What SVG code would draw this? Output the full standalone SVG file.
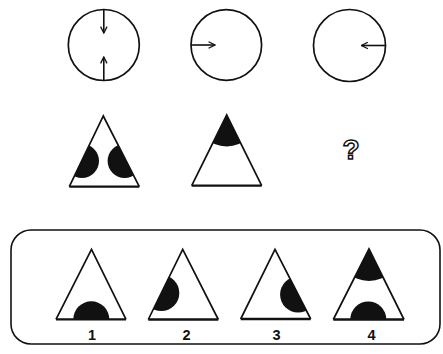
<svg xmlns="http://www.w3.org/2000/svg" width="443" height="354" viewBox="0 0 443 354">
<style>
.ln{fill:none;stroke:#111;stroke-width:1.7;stroke-linejoin:miter}
.base{stroke:#111;stroke-width:2.3}
.blk{fill:#111}
.arr{fill:none;stroke:#111;stroke-width:1.6}
.lbl{font-family:"Liberation Sans",Arial,sans-serif;font-weight:bold;font-size:14.5px;fill:#111;text-anchor:middle}
</style>
<defs>
<marker id="ah" viewBox="0 0 10 10" refX="9" refY="5" markerWidth="8" markerHeight="8" orient="auto" markerUnits="userSpaceOnUse">
<path d="M1,1 L9,5 L1,9" fill="none" stroke="#111" stroke-width="1.6"/>
</marker>
<clipPath id="cA"><polygon points="103.3,116 69.3,186.7 139.3,186.7"/></clipPath>
<clipPath id="cB"><polygon points="226.7,115 191.7,185.7 261.7,185.7"/></clipPath>
<clipPath id="c1"><polygon points="91.5,249.3 56,319.3 126,319.3"/></clipPath>
<clipPath id="c2"><polygon points="182.7,249.3 148.3,319.5 218.3,319.5"/></clipPath>
<clipPath id="c3"><polygon points="275,249.3 240.7,319 310.7,319"/></clipPath>
<clipPath id="c4"><polygon points="369,249 333.3,319.5 404,319.5"/></clipPath>
</defs>

<g id="circle1">
<circle class="ln" cx="103.8" cy="45" r="35.5"/>
<line class="arr" x1="103.8" y1="9.5" x2="103.8" y2="33" marker-end="url(#ah)"/>
<line class="arr" x1="103.8" y1="80.5" x2="103.8" y2="57" marker-end="url(#ah)"/>
</g>
<g id="circle2">
<circle class="ln" cx="226.3" cy="45" r="35.3"/>
<line class="arr" x1="191" y1="45" x2="215" y2="45" marker-end="url(#ah)"/>
</g>
<g id="circle3">
<circle class="ln" cx="349.5" cy="45.5" r="36"/>
<line class="arr" x1="385.5" y1="45.5" x2="361.5" y2="45.5" marker-end="url(#ah)"/>
</g>

<g id="triA">
<g clip-path="url(#cA)">
<circle class="blk" cx="82" cy="161" r="17"/>
<circle class="blk" cx="124.6" cy="161" r="17"/>
</g>
<polyline class="ln" points="69.3,186.7 103.3,116 139.3,186.7"/>
<line class="base" x1="69.3" y1="186.7" x2="139.3" y2="186.7"/>
</g>
<g id="triB">
<g clip-path="url(#cB)">
<circle class="blk" cx="226.7" cy="115" r="31.5"/>
</g>
<polyline class="ln" points="191.7,185.7 226.7,115 261.7,185.7"/>
<line class="base" x1="191.7" y1="185.7" x2="261.7" y2="185.7"/>
</g>
<g id="question">
<text x="351" y="159" font-family="'Liberation Sans',Arial,sans-serif" font-weight="bold" font-size="28" fill="#fff" stroke="#111" stroke-width="1.5" text-anchor="middle">?</text>
</g>

<g id="answers">
<rect class="ln" x="11" y="230" width="429" height="114" rx="20" ry="20" style="stroke-width:1.6"/>
<g id="opt1">
<g clip-path="url(#c1)"><circle class="blk" cx="91.3" cy="319.3" r="18"/></g>
<polyline class="ln" points="56,319.3 91.5,249.3 126,319.3"/>
<line class="base" x1="56" y1="319.3" x2="126" y2="319.3"/>
<text class="lbl" x="92" y="339.5">1</text>
</g>
<g id="opt2">
<g clip-path="url(#c2)"><circle class="blk" cx="161.3" cy="293" r="18"/></g>
<polyline class="ln" points="148.3,319.5 182.7,249.3 218.3,319.5"/>
<line class="base" x1="148.3" y1="319.5" x2="218.3" y2="319.5"/>
<text class="lbl" x="186.5" y="339.5">2</text>
</g>
<g id="opt3">
<g clip-path="url(#c3)"><circle class="blk" cx="298.1" cy="294.5" r="18"/></g>
<polyline class="ln" points="240.7,319 275,249.3 310.7,319"/>
<line class="base" x1="240.7" y1="319" x2="310.7" y2="319"/>
<text class="lbl" x="276.5" y="339.5">3</text>
</g>
<g id="opt4">
<g clip-path="url(#c4)">
<circle class="blk" cx="369" cy="249" r="32"/>
<circle class="blk" cx="368.3" cy="319.5" r="18"/>
</g>
<polyline class="ln" points="333.3,319.5 369,249 404,319.5"/>
<line class="base" x1="333.3" y1="319.5" x2="404" y2="319.5"/>
<text class="lbl" x="371.5" y="339.5">4</text>
</g>
</g>
</svg>
